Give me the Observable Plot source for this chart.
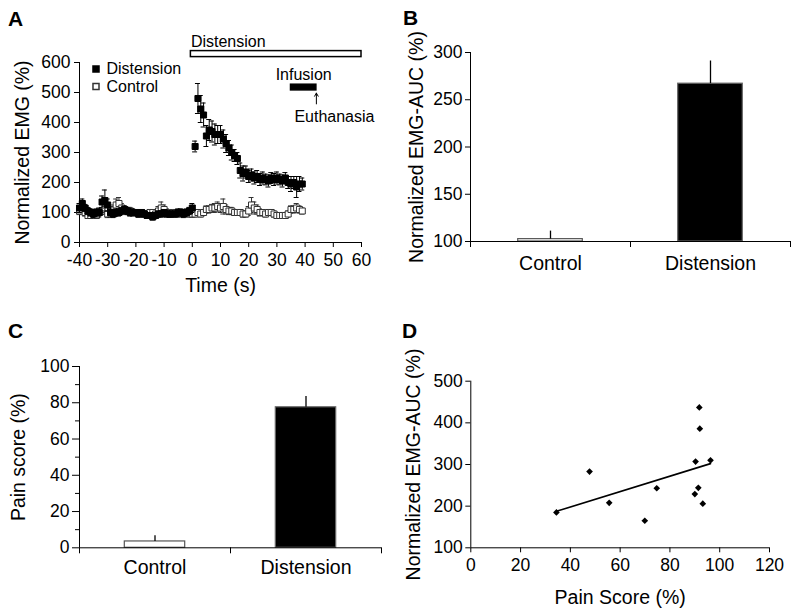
<!DOCTYPE html>
<html>
<head>
<meta charset="utf-8">
<script src="https://cdn.jsdelivr.net/npm/d3@7"></script>
<script src="https://cdn.jsdelivr.net/npm/@observablehq/plot@0.6"></script>
<style>
  body { margin: 0; background: white; }
  #page { position: relative; width: 800px; height: 615px; background: white; font-family: "Liberation Sans", Arial, Helvetica, sans-serif; }
  .panel { position: absolute; }
  .letter { position: absolute; font-weight: bold; font-size: 21px; line-height: 20px; color: black; }
</style>
</head>
<body>
<div id="page">
  <div class="letter" style="left:8px;top:9px">A</div>
  <div class="letter" style="left:403px;top:8px">B</div>
  <div class="letter" style="left:8px;top:321px">C</div>
  <div class="letter" style="left:402px;top:321px">D</div>
  <div class="panel" id="pa" style="left:0px;top:0px"></div>
  <div class="panel" id="pb" style="left:400px;top:0px"></div>
  <div class="panel" id="pc" style="left:0px;top:310px"></div>
  <div class="panel" id="pd" style="left:400px;top:310px"></div>
</div>
<script>
// ---------- Panel A data ----------
const times = d3.range(-40, 40);
const distValues = [
  115,130,115,105,100,95,100,100,135,140,
  125,100,95,100,100,105,110,105,100,100,
  100,95,100,95,90,90,85,90,95,95,
  100,95,95,95,95,100,100,95,100,105,
  115,320,480,445,425,355,375,370,360,360,
  360,345,330,315,300,290,280,240,230,235,
  220,225,215,220,210,215,210,205,215,210,
  215,210,205,215,200,195,200,185,195,195
];
const distErrors = [
  15,15,12,12,12,12,12,15,20,35,
  20,15,12,12,12,12,12,12,12,12,
  10,10,10,10,10,10,10,10,10,10,
  10,10,10,10,10,12,12,12,12,12,
  15,18,50,45,40,35,35,35,35,30,
  30,30,30,25,25,20,20,25,25,20,
  20,20,20,20,20,20,18,20,18,20,
  20,18,20,18,20,25,20,35,25,20
];
const ctrlValues = [
  105,110,100,90,90,95,90,100,105,110,
  95,100,110,125,130,115,110,105,105,100,
  100,95,100,95,95,100,100,95,105,115,
  110,100,95,100,100,95,100,100,100,95,
  95,95,100,95,100,110,110,115,115,120,
  115,120,110,105,105,100,100,100,95,95,
  105,125,115,110,100,100,95,100,100,95,
  90,90,90,90,95,110,110,115,110,105
];
const ctrlErrors = [
  12,12,12,10,10,10,10,12,12,12,
  12,12,15,20,20,15,12,12,12,10,
  10,10,10,10,10,10,10,10,15,20,
  15,12,10,10,10,10,10,10,10,10,
  10,10,10,10,10,12,12,12,15,15,
  15,25,15,12,12,10,10,10,10,10,
  15,25,20,15,12,10,10,10,10,10,
  10,10,10,10,10,12,12,15,12,10
];
const aTicksX = [-40,-30,-20,-10,0,10,20,30,40,50,60];
const aTicksY = [0,100,200,300,400,500,600];
// event annotations (time in s, level in % units)
const eventNames = ["Distension", "Infusion"];
const eventStart = [-0.5, 35];
const eventEnd = [60, 44];
const eventLow = [618, 507];
const eventHigh = [638, 526];
const eventFill = ["white", "black"];
const eventLabelX = [-0.5, 39.5];
const eventLabelY = [670, 560];
const eventLabelAnchor = ["start", "middle"];
const euthanasiaTime = [44];
const euthanasiaArrowLow = [462];
const euthanasiaArrowHigh = [498];
const euthanasiaLabel = ["Euthanasia"];
const euthanasiaLabelX = [50.4];
const euthanasiaLabelY = [420];

// ---------- Panel B / C data ----------
const categories = ["Control", "Distension"];
const bValues = [102.5, 267];
const bErrors = [8.5, 24];
const bTicksY = [100, 150, 200, 250, 300];
const cValues = [3.5, 77.5];
const cErrors = [3.1, 6];
const cTicksY = [0, 20, 40, 60, 80, 100];
const cMinorTicksY = [10, 30, 50, 70, 90];
const barFills = ["white", "black"];
const barStrokes = ["#555", "#666"];

// ---------- Panel D data ----------
const painScore = [34.4, 47.7, 55.6, 69.9, 74.7, 90.0, 90.3, 91.4, 91.8, 92.0, 93.2, 96.3];
const emgAuc = [185, 283, 208, 165, 243, 229, 307, 244, 437, 386, 206, 310];
const dTicksX = [0, 20, 40, 60, 80, 100, 120];
const dTicksY = [100, 200, 300, 400, 500];

const FONT = '"Liberation Sans", Arial, Helvetica, sans-serif';
const baseStyle = {fontFamily: FONT, fontSize: "17.5px", color: "black", background: "transparent", overflow: "visible"};

// ---------- Panel A ----------
const dist = times.map((t, i) => ({t, v: distValues[i], e: distErrors[i]}));
const ctrl = times.map((t, i) => ({t, v: ctrlValues[i], e: ctrlErrors[i]}));
const events = eventNames.map((name, i) => ({name, x1: eventStart[i], x2: eventEnd[i], y1: eventLow[i], y2: eventHigh[i], fill: eventFill[i], lx: eventLabelX[i], ly: eventLabelY[i], anchor: eventLabelAnchor[i]}));

const errMarks = (data, color) => [
  Plot.ruleX(data, {x: "t", y1: d => d.v - d.e, y2: d => d.v + d.e, stroke: color, strokeWidth: 1}),
  Plot.ruleY(data, {y: d => d.v + d.e, x1: "t", x2: "t", insetLeft: -2.5, insetRight: -2.5, stroke: color, strokeWidth: 1}),
  Plot.ruleY(data, {y: d => d.v - d.e, x1: "t", x2: "t", insetLeft: -2.5, insetRight: -2.5, stroke: color, strokeWidth: 1})
];

const plotA = Plot.plot({
  width: 390, height: 300,
  marginLeft: 79, marginRight: 29, marginTop: 62, marginBottom: 58,
  style: baseStyle,
  x: {domain: [-40, 60]},
  y: {domain: [0, 600]},
  marks: [
    Plot.axisX({ticks: aTicksX, tickSize: 5, tickPadding: 6, tickFormat: d => String(d), label: null}),
    Plot.axisY({ticks: aTicksY, tickSize: 5, tickPadding: 4, tickFormat: d => String(d), label: null}),
    Plot.ruleX([-40], {stroke: "black"}),
    Plot.ruleY([0], {stroke: "black"}),
    ...errMarks(ctrl, "#333"),
    Plot.dot(ctrl, {x: "t", y: "v", symbol: "square", r: 3.4, fill: "white", stroke: "#333", strokeWidth: 1}),
    ...errMarks(dist, "black"),
    Plot.dot(dist, {x: "t", y: "v", symbol: "square", r: 3.4, fill: "black", stroke: "black", strokeWidth: 1}),
    // annotations
    Plot.rect(events, {x1: "x1", x2: "x2", y1: "y1", y2: "y2", fill: "fill", stroke: "black", strokeWidth: 1.5}),
    Plot.text(events, {x: "lx", y: "ly", text: "name", textAnchor: "start", fontSize: 16, filter: d => d.anchor === "start"}),
    Plot.text(events, {x: "lx", y: "ly", text: "name", textAnchor: "middle", fontSize: 16, filter: d => d.anchor === "middle"}),
    Plot.arrow(euthanasiaTime, {x: d => d, y1: (d, i) => euthanasiaArrowLow[i], y2: (d, i) => euthanasiaArrowHigh[i], stroke: "black", strokeWidth: 1, headLength: 6}),
    Plot.text(euthanasiaLabel, {x: (d, i) => euthanasiaLabelX[i], y: (d, i) => euthanasiaLabelY[i], text: d => d, fontSize: 16}),
    // legend
    Plot.dot([categories[1]], {frameAnchor: "top-left", dx: 16.5, dy: 6.5, symbol: "square", r: 3.4, fill: "black", stroke: "black"}),
    Plot.text([categories[1]], {frameAnchor: "top-left", dx: 27, dy: 6.5, text: d => d, textAnchor: "start", lineAnchor: "middle", fontSize: 16}),
    Plot.dot([categories[0]], {frameAnchor: "top-left", dx: 16.5, dy: 24, symbol: "square", r: 3.4, fill: "white", stroke: "#333"}),
    Plot.text([categories[0]], {frameAnchor: "top-left", dx: 27, dy: 24, text: d => d, textAnchor: "start", lineAnchor: "middle", fontSize: 16}),
    // axis titles
    Plot.text(["Time (s)"], {frameAnchor: "bottom", dy: 43, text: d => d, lineAnchor: "middle", fontSize: 19.5}),
    Plot.text(["Normalized EMG (%)"], {frameAnchor: "left", dx: -57, rotate: -90, text: d => d, lineAnchor: "middle", textAnchor: "middle", fontSize: 19.5})
  ]
});
document.getElementById("pa").appendChild(plotA);

// ---------- Bar panels ----------
function barPanel({values, errors, base, yDomain, yTicks, yMinor, width, height, margins, inset, yLabel, labelDx, catPad, yTickSize}) {
  const rows = categories.map((c, i) => ({c, i, v: values[i], e: errors[i], fill: barFills[i], stroke: barStrokes[i]}));
  const marks = [
    Plot.rect(rows, {x1: "i", x2: d => d.i + 1, y1: base, y2: "v", insetLeft: inset, insetRight: inset, fill: "fill", stroke: "stroke", strokeWidth: 1.2}),
    Plot.ruleX(rows, {x: d => d.i + 0.5, y1: "v", y2: d => d.v + d.e, stroke: "black", strokeWidth: 1.3}),
    Plot.ruleX([0], {stroke: "black"}),
    Plot.ruleY([base], {stroke: "black"}),
    Plot.axisY({ticks: yTicks, tickSize: yTickSize, tickPadding: 3, tickFormat: d => String(d), label: null}),
    Plot.axisX({ticks: d3.range(0, categories.length + 1), tickSize: 6, tickFormat: () => "", label: null}),
    Plot.axisX({ticks: categories.map((c, i) => i + 0.5), tickSize: 0, tickPadding: catPad, tickFormat: d => categories[Math.floor(d)], fontSize: 19.5, label: null}),
    Plot.text([yLabel], {frameAnchor: "left", dx: labelDx, rotate: -90, text: d => d, lineAnchor: "middle", textAnchor: "middle", fontSize: 19.5})
  ];
  if (yMinor) marks.push(Plot.axisY({ticks: yMinor, tickSize: 4, tickFormat: () => "", label: null}));
  return Plot.plot({
    width, height, ...margins,
    style: baseStyle,
    x: {domain: [0, categories.length]},
    y: {domain: yDomain},
    marks
  });
}

document.getElementById("pb").appendChild(barPanel({
  values: bValues, errors: bErrors, base: 100, yDomain: [100, 300], yTicks: bTicksY,
  width: 400, height: 300,
  margins: {marginLeft: 70, marginRight: 10, marginTop: 52, marginBottom: 59},
  inset: 47.7, yLabel: "Normalized EMG-AUC (%)", labelDx: -54, catPad: 15, yTickSize: 5
}));

document.getElementById("pc").appendChild(barPanel({
  values: cValues, errors: cErrors, base: 0, yDomain: [0, 100], yTicks: cTicksY, yMinor: cMinorTicksY,
  width: 400, height: 305,
  margins: {marginLeft: 79, marginRight: 19, marginTop: 56, marginBottom: 67.7},
  inset: 45.3, yLabel: "Pain score (%)", labelDx: -60.5, catPad: 12.5, yTickSize: 7
}));

// ---------- Panel D ----------
const pts = painScore.map((x, i) => ({x, y: emgAuc[i]}));
const plotD = Plot.plot({
  width: 400, height: 305,
  marginLeft: 70.3, marginRight: 31, marginTop: 70.7, marginBottom: 67.7,
  style: baseStyle,
  x: {domain: [0, 120]},
  y: {domain: [100, 500]},
  marks: [
    Plot.axisX({ticks: dTicksX, tickSize: 5, tickPadding: 6, tickFormat: d => String(d), label: null}),
    Plot.axisY({ticks: dTicksY, tickSize: 5, tickPadding: 3, tickFormat: d => String(d), label: null}),
    Plot.ruleX([0], {stroke: "black"}),
    Plot.ruleY([100], {stroke: "black"}),
    Plot.linearRegressionY(pts, {x: "x", y: "y", ci: 0, stroke: "black", strokeWidth: 1.6}),
    Plot.dot(pts, {x: "x", y: "y", symbol: "diamond2", r: 3, fill: "black", stroke: "none"}),
    Plot.text(["Pain Score (%)"], {frameAnchor: "bottom", dy: 50, text: d => d, lineAnchor: "middle", fontSize: 19.5}),
    Plot.text(["Normalized EMG-AUC (%)"], {frameAnchor: "left", dx: -57, rotate: -90, text: d => d, lineAnchor: "middle", textAnchor: "middle", fontSize: 19.5})
  ]
});
document.getElementById("pd").appendChild(plotD);
</script>
</body>
</html>
